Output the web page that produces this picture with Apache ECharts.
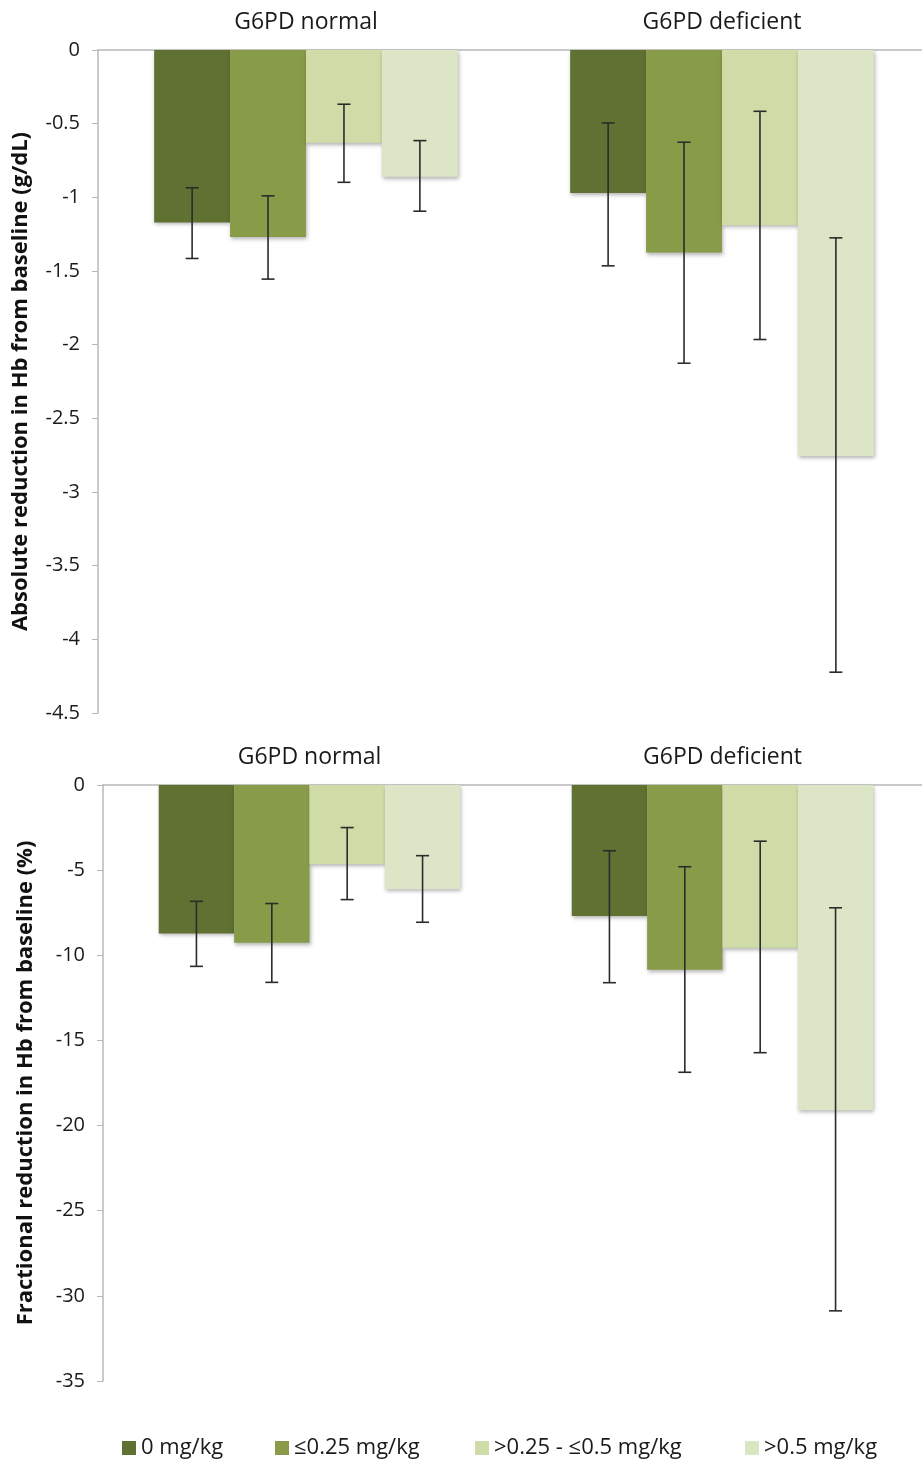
<!DOCTYPE html>
<html>
<head>
<meta charset="utf-8">
<script src="https://cdn.jsdelivr.net/npm/echarts@6/dist/echarts.min.js"></script>
<style>
  html, body { margin: 0; padding: 0; background: #fff; }
  #chart { width: 922px; height: 1464px; }
</style>
</head>
<body>
<div id="chart"></div>
<script>
const categories = ['G6PD normal', 'G6PD deficient'];
const doses = ['0 mg/kg', '≤0.25 mg/kg', '>0.25 - ≤0.5 mg/kg', '>0.5 mg/kg'];
const colors = ['#607132', '#889b48', '#cfdca7', '#dce5c6'];

// absolute reduction (g/dL), per dose: [normal, deficient]
const absMean  = [[-1.17, -0.97], [-1.27, -1.375], [-0.63, -1.19], [-0.86, -2.755]];
const absUpper = [[-0.935, -0.495], [-0.99, -0.626], [-0.368, -0.416], [-0.615, -1.275]];
const absLower = [[-1.415, -1.465], [-1.555, -2.126], [-0.898, -1.965], [-1.094, -4.223]];

// fractional reduction (%), per dose: [normal, deficient]
const fracMean  = [[-8.72, -7.70], [-9.26, -10.85], [-4.64, -9.56], [-6.12, -19.10]];
const fracUpper = [[-6.83, -3.86], [-6.96, -4.80], [-2.50, -3.30], [-4.15, -7.21]];
const fracLower = [[-10.65, -11.61], [-11.59, -16.87], [-6.73, -15.72], [-8.06, -30.88]];

const absTicks = { min: -4.5, max: 0, interval: 0.5 };
const fracTicks = { min: -35, max: 0, interval: 5 };

const FONT = '"Open Sans", sans-serif';
const GAP = 0.27;

const chart = echarts.init(document.getElementById('chart'));

function errorData(upper, lower) {
    const out = [];
    upper.forEach((arr, d) => {
        arr.forEach((u, c) => out.push([c, u, lower[d][c], d]));
    });
    return out;
}

function renderError(params, api) {
    const c = api.value(0);
    const d = api.value(3);
    const band = api.size([1, 0])[0];
    const bw = band * (1 - GAP) / 4;
    const top = api.coord([c, api.value(1)]);
    const bot = api.coord([c, api.value(2)]);
    const x = top[0] + (d - 1.5) * bw;
    const cap = 6.5;
    const style = { stroke: '#2b2b2b', lineWidth: 1.6 };
    return {
        type: 'group',
        children: [
            { type: 'line', shape: { x1: x, y1: top[1], x2: x, y2: bot[1] }, style },
            { type: 'line', shape: { x1: x - cap, y1: top[1], x2: x + cap, y2: top[1] }, style },
            { type: 'line', shape: { x1: x - cap, y1: bot[1], x2: x + cap, y2: bot[1] }, style }
        ]
    };
}

function xAxis(idx) {
    return {
        type: 'category',
        gridIndex: idx,
        position: 'top',
        data: categories,
        axisLine: { lineStyle: { color: '#b8b8b8', width: 1.5 } },
        axisTick: { inside: true, length: 7, lineStyle: { color: '#b8b8b8' } },
        axisLabel: { fontFamily: FONT, fontSize: 23, color: '#1a1a1a', margin: 16 }
    };
}

function yAxis(idx, ticks, title) {
    return {
        type: 'value',
        gridIndex: idx,
        min: ticks.min,
        max: ticks.max,
        interval: ticks.interval,
        name: title,
        nameLocation: 'middle',
        nameGap: 66,
        nameTextStyle: { fontFamily: FONT, fontSize: 22, fontWeight: 'bold', color: '#111' },
        splitLine: { show: false },
        axisLine: { show: true, lineStyle: { color: '#b8b8b8', width: 1.5 } },
        axisTick: { show: true, length: 6, lineStyle: { color: '#b8b8b8' } },
        axisLabel: { fontFamily: FONT, fontSize: 20, color: '#1a1a1a', margin: 18 }
    };
}

const series = [];
doses.forEach((name, d) => {
    [[absMean, 0], [fracMean, 1]].forEach(([src, g]) => {
        series.push({
            name,
            type: 'bar',
            xAxisIndex: g,
            yAxisIndex: g,
            data: src[d],
            barGap: '0%',
            barCategoryGap: (GAP * 100) + '%',
            itemStyle: {
                color: colors[d],
                shadowColor: 'rgba(0,0,0,0.3)',
                shadowBlur: 4,
                shadowOffsetX: 1,
                shadowOffsetY: 2
            }
        });
    });
});
series.push({
    type: 'custom', xAxisIndex: 0, yAxisIndex: 0, z: 10,
    renderItem: renderError, data: errorData(absUpper, absLower)
});
series.push({
    type: 'custom', xAxisIndex: 1, yAxisIndex: 1, z: 10,
    renderItem: renderError, data: errorData(fracUpper, fracLower)
});

const legendLeft = [122, 275, 475, 745];
const legends = doses.map((name, d) => ({
    data: [name],
    left: legendLeft[d],
    top: 1437,
    padding: 0,
    itemWidth: 14,
    itemHeight: 14,
    icon: 'rect',
    textStyle: { fontFamily: FONT, fontSize: 22, color: '#1a1a1a' }
}));

chart.setOption({
    animation: false,
    backgroundColor: '#fff',
    grid: [
        { left: 98, top: 50, width: 832, height: 663, outerBoundsMode: 'none' },
        { left: 103, top: 785, width: 826, height: 596, outerBoundsMode: 'none' }
    ],
    legend: legends,
    xAxis: [xAxis(0), xAxis(1)],
    yAxis: [
        yAxis(0, absTicks, 'Absolute reduction in Hb from baseline (g/dL)'),
        yAxis(1, fracTicks, 'Fractional reduction in Hb from baseline (%)')
    ],
    series
});
</script>
</body>
</html>
